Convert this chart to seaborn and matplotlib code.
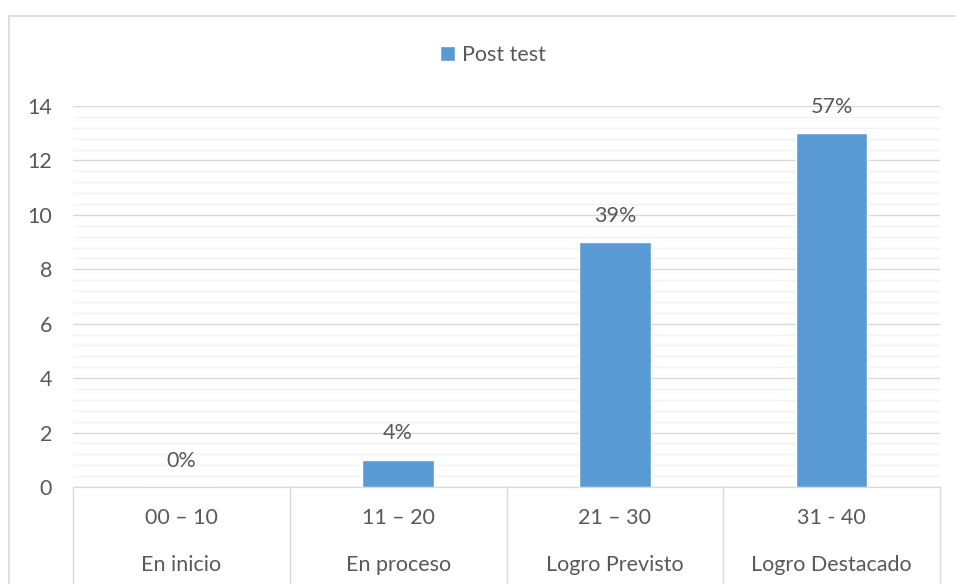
import pandas as pd
import matplotlib
matplotlib.use("Agg")
import matplotlib.pyplot as plt
import matplotlib.ticker as mticker
import matplotlib.transforms as mtransforms
from matplotlib.lines import Line2D
import seaborn as sns

# datos
rangos = ["00 \u2013 10", "11 \u2013 20", "21 \u2013 30", "31 - 40"]
niveles = ["En inicio", "En proceso", "Logro Previsto", "Logro Destacado"]
post_test = [0, 1, 9, 13]
porcentajes = ["0%", "4%", "39%", "57%"]

sns.set_style("white")
plt.rcParams["font.family"] = ["Lato", "DejaVu Sans"]

TXT = "#595959"
AZUL = "#5B9BD5"
FS = 15.5

df = pd.DataFrame({"rango": rangos, "valor": post_test})

fig = plt.figure(figsize=(9.56, 5.84), dpi=100)
ax = fig.add_axes([73 / 956, 1 - 487 / 584, (940 - 73) / 956, (487 - 106) / 584])

sns.barplot(data=df, x="rango", y="valor", color=AZUL, width=0.33,
            saturation=1, ax=ax, label="Post test", zorder=3)

ax.set_ylim(0, 14)
ax.set_xlim(-0.5, 3.5)
ax.yaxis.set_major_locator(mticker.MultipleLocator(2))
ax.yaxis.set_minor_locator(mticker.MultipleLocator(0.4))
ax.grid(which="major", axis="y", color="#D9D9D9", lw=1, zorder=0)
ax.grid(which="minor", axis="y", color="#F2F2F2", lw=1, zorder=0)
ax.tick_params(axis="y", which="both", length=0, pad=15, labelsize=FS, labelcolor=TXT)
ax.set_xticks([])
ax.set_xlabel("")
ax.set_ylabel("")
for s in ["top", "right", "left"]:
    ax.spines[s].set_visible(False)
ax.spines["bottom"].set_color("#D9D9D9")

# etiquetas de porcentaje
for i, (v, p) in enumerate(zip(post_test, porcentajes)):
    ax.annotate(p, (i, v), xytext=(0, 19), textcoords="offset points",
                ha="center", va="center", fontsize=FS, color=TXT)

# eje de categorias en dos niveles
trans = mtransforms.blended_transform_factory(ax.transData, ax.transAxes)
for i, (r, n) in enumerate(zip(rangos, niveles)):
    ax.text(i, -0.081, r, transform=trans, ha="center", va="center",
            fontsize=FS, color=TXT)
    ax.text(i, -0.205, n, transform=trans, ha="center", va="center",
            fontsize=FS, color=TXT)
for xs in [-0.5, 0.5, 1.5, 2.5, 3.5]:
    ax.add_line(Line2D([xs, xs], [0, -0.26], transform=trans, color="#D9D9D9",
                       lw=1, clip_on=False))

if ax.legend_:
    ax.legend_.remove()
fig.legend(loc="center", bbox_to_anchor=(493 / 956, 1 - 55 / 584), frameon=False,
           fontsize=FS, labelcolor=TXT, handlelength=0.7, handleheight=0.7,
           handletextpad=0.3)

# borde del grafico
fig.add_artist(Line2D([8.5 / 956, 8.5 / 956], [0, 1 - 16 / 584],
                      transform=fig.transFigure, color="#D9D9D9", lw=1.2))
fig.add_artist(Line2D([8.5 / 956, 1], [1 - 16 / 584, 1 - 16 / 584],
                      transform=fig.transFigure, color="#D9D9D9", lw=1.2))

fig.savefig("out.png", dpi=100)
